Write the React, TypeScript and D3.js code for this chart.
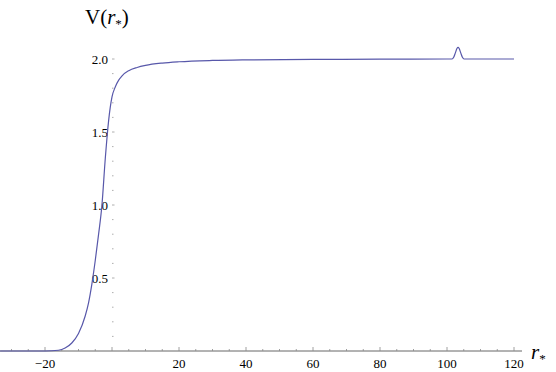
import React, { useRef, useEffect } from 'react'
import * as d3 from 'd3'

// r* samples and V(r*)
const rStar = [-33.4, -20, -16, -14, -12, -10, -8, -7, -6, -5, -4, -3, -2, -1, 0, 1, 2, 3, 5, 7.5, 10, 15, 20, 30, 40, 60, 80, 100, 101.5, 102, 102.5, 103, 103.3, 103.6, 104.1, 104.6, 105.1, 120]
const vals = [0, 0, 0.005, 0.02, 0.055, 0.12, 0.24, 0.33, 0.46, 0.62, 0.8, 1.0, 1.32, 1.58, 1.74, 1.81, 1.855, 1.885, 1.92, 1.942, 1.956, 1.972, 1.981, 1.99, 1.994, 1.997, 1.999, 2.0, 2.0, 2.012, 2.042, 2.074, 2.08, 2.074, 2.042, 2.012, 2.0, 2.0]

const xMajor = [-20, 20, 40, 60, 80, 100, 120]
const yMajor = [0.5, 1.0, 1.5, 2.0]

export default function App() {
  const svgRef = useRef<SVGSVGElement>(null)

  useEffect(() => {
    const w = 556
    const h = 372
    const svg = d3.select(svgRef.current)
      .attr('width', w)
      .attr('height', h)
      .style('position', 'absolute')
      .style('left', '0px')
      .style('top', '0px')
      .style('font-family', '"Liberation Serif", "Times New Roman", serif')
    svg.selectAll('*').remove()

    const x = d3.scaleLinear().domain([-20, 120]).range([45, 514])
    const y = d3.scaleLinear().domain([0, 2]).range([351, 59])
    const x0 = x(0)
    const y0 = y(0)

    // x axis
    svg.append('line')
      .attr('x1', 0).attr('x2', 522)
      .attr('y1', y0).attr('y2', y0)
      .attr('stroke', '#666').attr('stroke-width', 1)

    const xMinor = d3.range(-30, 121, 5)
    svg.append('g').selectAll('line')
      .data(xMinor)
      .join('line')
        .attr('x1', d => x(d)).attr('x2', d => x(d))
        .attr('y1', y0).attr('y2', d => y0 - (d % 20 === 0 ? 4 : 2))
        .attr('stroke', '#888').attr('stroke-width', 0.8)

    svg.append('g').selectAll('text')
      .data(xMajor)
      .join('text')
        .attr('x', d => x(d))
        .attr('y', 368)
        .attr('text-anchor', 'middle')
        .attr('font-size', 13)
        .text(d => d < 0 ? '\u2212' + Math.abs(d) : String(d))

    // y ticks (no axis line)
    const yMinor = d3.range(1, 21).map(i => i / 10)
    svg.append('g').selectAll('line')
      .data(yMinor)
      .join('line')
        .attr('x1', x0).attr('x2', d => x0 + (Math.round(d * 10) % 5 === 0 ? 2.5 : 1.5))
        .attr('y1', d => y(d)).attr('y2', d => y(d))
        .attr('stroke', '#999').attr('stroke-width', 0.8)

    svg.append('g').selectAll('text')
      .data(yMajor)
      .join('text')
        .attr('x', x0 - 4)
        .attr('y', d => y(d) + 4.5)
        .attr('text-anchor', 'end')
        .attr('font-size', 13)
        .text(d => d.toFixed(1))

    // curve
    const line = d3.line<number>()
      .x((d, i) => x(rStar[i]))
      .y(d => y(d))
      .curve(d3.curveMonotoneX)

    svg.append('path')
      .datum(vals)
      .attr('d', line)
      .attr('fill', 'none')
      .attr('stroke', '#5858aa')
      .attr('stroke-width', 1.2)

    // labels
    const title = svg.append('text')
      .attr('x', 85).attr('y', 24)
      .attr('font-size', 21)
    title.append('tspan').text('V(')
    title.append('tspan').attr('font-style', 'italic').text('r')
    title.append('tspan').attr('font-size', 13).attr('dy', 4).text('*')
    title.append('tspan').attr('dy', -4).text(')')

    const xl = svg.append('text')
      .attr('x', 531).attr('y', 359)
      .attr('font-size', 21)
    xl.append('tspan').attr('font-style', 'italic').text('r')
    xl.append('tspan').attr('font-size', 13).attr('dy', 4).text('*')
  }, [])

  return (
    <div>
      <svg ref={svgRef}></svg>
    </div>
  )
}
